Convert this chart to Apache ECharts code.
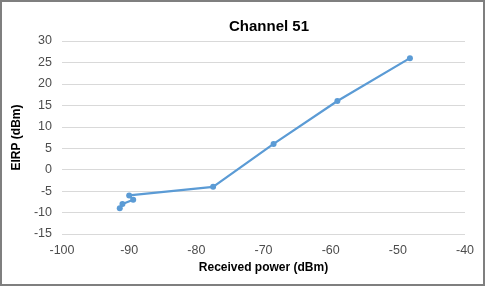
<!DOCTYPE html>
<html>
<head>
<meta charset="utf-8">
<script src="https://cdn.jsdelivr.net/npm/echarts@6/dist/echarts.min.js"></script>
<style>
  html, body { margin: 0; padding: 0; background: #fff; }
  #chart { width: 485px; height: 286px; box-sizing: border-box; border: 2px solid #7f7f7f; }
</style>
</head>
<body>
<div id="chart"></div>
<script>
// received power (dBm) and EIRP (dBm), in drawing order
const receivedPower = [-91.4, -91, -89.4, -90, -77.5, -68.5, -59, -48.2];
const eirp = [-9, -8, -7, -6, -4, 6, 16, 26];
const xTicks = { min: -100, max: -40, step: 10 };
const yTicks = { min: -15, max: 30, step: 5 };

const chart = echarts.init(document.getElementById('chart'));
const axisFont = { color: '#4d4d4d', fontSize: 12.5, fontFamily: 'Liberation Sans, Arial' };
const nameFont = { color: '#000', fontSize: 12, fontWeight: 'bold', fontFamily: 'Liberation Sans, Arial' };

const option = {
    animation: false,
    title: {
        text: 'Channel 51',
        left: 262,
        top: 12,
        textAlign: 'center',
        textStyle: { fontSize: 15, fontWeight: 'bold', color: '#000', fontFamily: 'Liberation Sans, Arial' }
    },
    grid: { left: 60, right: 18, top: 39, bottom: 50 },
    xAxis: {
        type: 'value',
        min: xTicks.min, max: xTicks.max, interval: xTicks.step,
        name: 'Received power (dBm)',
        nameLocation: 'middle',
        nameGap: 23,
        nameTextStyle: nameFont,
        axisLine: { show: false },
        axisTick: { show: false },
        axisLabel: Object.assign({ margin: 10 }, axisFont),
        splitLine: { show: false }
    },
    yAxis: {
        type: 'value',
        min: yTicks.min, max: yTicks.max, interval: yTicks.step,
        name: 'EIRP (dBm)',
        nameLocation: 'middle',
        nameGap: 31,
        nameTextStyle: nameFont,
        axisLine: { show: false },
        axisTick: { show: false },
        axisLabel: Object.assign({ margin: 10 }, axisFont),
        splitLine: { lineStyle: { color: '#d9d9d9', width: 1 } }
    },
    series: [{
        type: 'line',
        data: receivedPower.map((x, i) => [x, eirp[i]]),
        symbol: 'circle',
        symbolSize: 6,
        lineStyle: { color: '#5b9bd5', width: 2.25 },
        itemStyle: { color: '#5b9bd5' }
    }]
};
chart.setOption(option);
</script>
</body>
</html>
